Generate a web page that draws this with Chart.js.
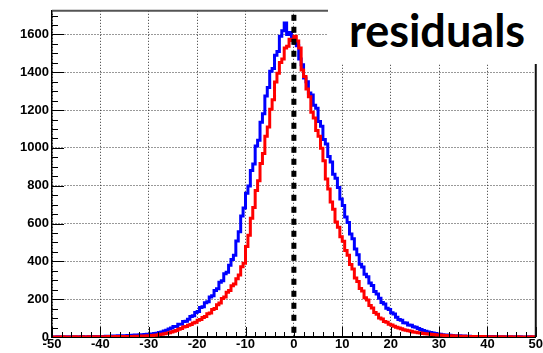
<!DOCTYPE html>
<html>
<head>
<meta charset="utf-8">
<script src="https://cdn.jsdelivr.net/npm/chart.js@4.4.1/dist/chart.umd.min.js"></script>
<style>
  body { margin: 0; background: #fff; }
  #wrap { position: relative; width: 543px; height: 353px; }
  #label {
    position: absolute; left: 328px; top: 0; width: 215px; height: 64px;
    background: #fff; font-family: Lato, "Open Sans", sans-serif; font-weight: bold;
    font-size: 45px; line-height: 60px; padding-left: 21px; box-sizing: border-box;
    color: #000;
  }
</style>
</head>
<body>
<div id="wrap">
  <canvas id="c" width="543" height="353"></canvas>
  <div id="label">residuals</div>
</div>
<script>
// histogram binning: 200 bins of 0.5 from -50 to 50
const binLow = -50;
const binWidth = 0.5;
const xTicks = [-50, -40, -30, -20, -10, 0, 10, 20, 30, 40, 50];
const yTicks = [0, 200, 400, 600, 800, 1000, 1200, 1400, 1600];
const yMax = 1725;
const zeroLineX = 0;

// blue histogram (counts per bin)
const blueCounts = [
  0, 0, 1, 0, 0, 1, 0, 1, 0, 1,
  1, 0, 2, 1, 1, 2, 1, 2, 3, 2,
  3, 2, 4, 3, 4, 5, 4, 6, 5, 7,
  6, 8, 7, 9, 10, 9, 12, 11, 13, 15,
  14, 16, 18, 20, 24, 27, 32, 36, 42, 47,
  55, 56, 67, 68, 82, 83, 94, 108, 112, 130,
  135, 156, 160, 181, 187, 212, 218, 246, 255, 290,
  298, 334, 342, 380, 410, 432, 508, 556, 640, 682,
  760, 798, 880, 915, 1010, 1040, 1135, 1180, 1275, 1320,
  1405, 1420, 1490, 1510, 1590, 1620, 1660, 1600, 1610, 1580,
  1555, 1540, 1470, 1440, 1370, 1350, 1290, 1280, 1225, 1210,
  1140, 1115, 1045, 1020, 955, 925, 860, 840, 790, 730,
  695, 635, 605, 545, 520, 465, 435, 385, 370, 332,
  318, 285, 272, 240, 228, 205, 182, 175, 152, 146,
  128, 121, 104, 92, 88, 76, 74, 64, 62, 54,
  51, 45, 40, 35, 31, 27, 24, 21, 18, 16,
  14, 12, 11, 10, 9, 8, 7, 6, 6, 5,
  5, 4, 4, 3, 3, 3, 2, 3, 2, 2,
  2, 1, 2, 1, 1, 1, 0, 1, 1, 0,
  1, 0, 0, 1, 0, 0, 0, 1, 0, 0
];

// red histogram (counts per bin)
const redCounts = [
  0, 0, 0, 0, 1, 0, 0, 0, 0, 1,
  0, 0, 1, 0, 0, 1, 0, 1, 1, 0,
  1, 1, 0, 2, 1, 1, 2, 1, 2, 2,
  2, 3, 2, 3, 4, 3, 4, 5, 5, 6,
  7, 8, 9, 11, 13, 15, 17, 20, 23, 27,
  30, 34, 41, 45, 53, 56, 62, 66, 74, 78,
  88, 92, 103, 108, 123, 127, 145, 151, 171, 180,
  203, 212, 236, 246, 271, 280, 308, 328, 372, 390,
  478, 538, 628, 685, 775, 826, 918, 970, 1062, 1110,
  1205, 1255, 1348, 1395, 1452, 1470, 1528, 1538, 1575, 1568,
  1590, 1565, 1528, 1412, 1378, 1312, 1270, 1188, 1158, 1092,
  1062, 998, 932, 835, 782, 714, 676, 608, 580, 530,
  506, 457, 432, 383, 360, 312, 294, 256, 243, 207,
  196, 166, 153, 130, 120, 101, 95, 82, 78, 67,
  63, 57, 51, 47, 43, 39, 36, 33, 30, 27,
  25, 23, 21, 19, 17, 16, 14, 13, 12, 11,
  10, 9, 8, 7, 7, 6, 5, 5, 4, 4,
  4, 3, 3, 2, 3, 2, 2, 1, 2, 1,
  1, 1, 0, 1, 1, 0, 1, 0, 0, 1,
  0, 0, 1, 0, 0, 0, 0, 0, 1, 0
];

// each bin -> point at its low edge, plus closing point at the last edge
function histPoints(counts) {
  const pts = counts.map((c, i) => ({ x: binLow + i * binWidth, y: c }));
  pts.push({ x: binLow + counts.length * binWidth, y: counts[counts.length - 1] });
  return pts;
}

const xMin = xTicks[0], xMax = xTicks[xTicks.length - 1];

// ROOT style ticks inside the frame + frame lines
const frame = {
  id: 'frame',
  afterDraw(chart) {
    const { ctx, chartArea: a, scales: { x, y } } = chart;
    ctx.save();
    ctx.strokeStyle = '#000';
    ctx.lineWidth = 1;
    ctx.beginPath();
    for (let v = xMin; v <= xMax; v += 2) {
      const px = Math.round(x.getPixelForValue(v)) + 0.5;
      const len = v % 10 === 0 ? 10 : 5;
      ctx.moveTo(px, a.bottom);
      ctx.lineTo(px, a.bottom - len);
    }
    for (let v = 0; v <= yMax; v += 50) {
      const py = Math.round(y.getPixelForValue(v)) + 0.5;
      const len = v % 200 === 0 ? 12 : 6;
      ctx.moveTo(a.left, py);
      ctx.lineTo(a.left + len, py);
    }
    ctx.stroke();
    // top and right frame
    ctx.strokeStyle = '#555';
    ctx.lineWidth = 2;
    ctx.beginPath();
    ctx.moveTo(a.left, a.top);
    ctx.lineTo(a.right, a.top);
    ctx.stroke();
    ctx.strokeStyle = '#111';
    ctx.beginPath();
    ctx.moveTo(a.right, a.top);
    ctx.lineTo(a.right, a.bottom);
    ctx.stroke();
    ctx.restore();
  }
};

const tickFont = { family: '"Liberation Sans", Arial, sans-serif', size: 13, weight: 'bold' };
const plain = v => String(v);

new Chart(document.getElementById('c'), {
  type: 'line',
  data: {
    datasets: [
      {
        data: [{ x: zeroLineX, y: yMax }, { x: zeroLineX, y: 0 }],
        borderColor: '#000',
        borderWidth: 5,
        borderDash: [6, 6],
        borderDashOffset: 8,
        pointRadius: 0,
        order: 0
      },
      {
        data: histPoints(redCounts),
        borderColor: '#ff0000',
        borderWidth: 3,
        stepped: true,
        pointRadius: 0,
        order: 1
      },
      {
        data: histPoints(blueCounts),
        borderColor: '#0000ff',
        borderWidth: 3,
        stepped: true,
        pointRadius: 0,
        order: 2
      }
    ]
  },
  options: {
    responsive: false,
    animation: false,
    layout: { padding: { top: 9, right: 7, left: 0, bottom: 0 } },
    plugins: { legend: { display: false }, tooltip: { enabled: false } },
    scales: {
      x: {
        type: 'linear',
        min: xMin,
        max: xMax,
        afterFit: s => { s.height = 16; },
        afterBuildTicks: s => { s.ticks = xTicks.map(v => ({ value: v })); },
        ticks: { font: tickFont, color: '#000', padding: 0, autoSkip: false, maxRotation: 0, callback: plain },
        grid: { color: '#333', drawTicks: false, lineWidth: 1 },
        border: { color: '#000', width: 2, dash: [1, 2] }
      },
      y: {
        min: 0,
        max: yMax,
        afterFit: s => { s.width = 52; },
        afterBuildTicks: s => { s.ticks = yTicks.map(v => ({ value: v })); },
        ticks: { font: tickFont, color: '#000', padding: 3, callback: plain },
        grid: { color: '#333', drawTicks: false, lineWidth: 1 },
        border: { color: '#000', width: 1.5, dash: [1, 2] }
      }
    }
  },
  plugins: [frame]
});
</script>
</body>
</html>
